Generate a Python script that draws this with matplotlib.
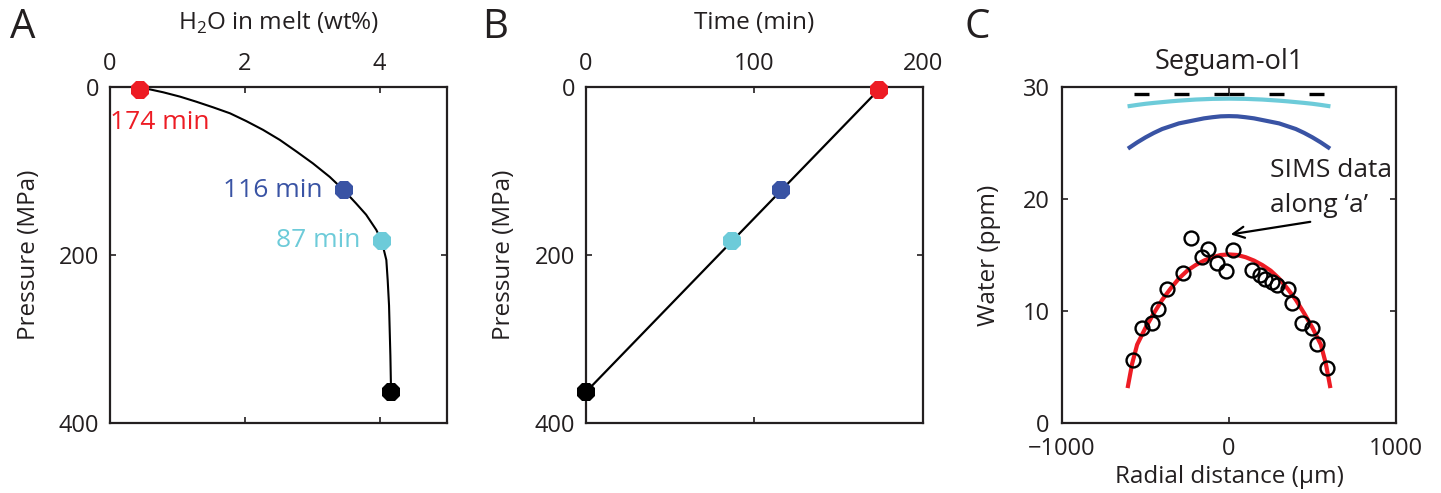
import matplotlib
matplotlib.use("Agg")
import matplotlib.pyplot as plt

plt.rcParams['font.family'] = ['Open Sans', 'DejaVu Sans']
plt.rcParams['mathtext.fontset'] = 'custom'
plt.rcParams['mathtext.rm'] = 'Open Sans'

# ---- data ----
# panel A: H2O in melt vs pressure (degassing path)
h2o_path = [0.44, 0.59, 0.79, 1.04, 1.28, 1.53, 1.78, 2.02, 2.27, 2.52, 2.77, 3.01, 3.26,
            3.47, 3.65, 3.80, 3.95, 4.03, 4.10, 4.12, 4.14, 4.15, 4.16, 4.17]
p_path = [3, 2.8, 6.3, 11.5, 17.5, 24.2, 31.3, 40.5, 51, 63, 77, 90.9, 107,
          123, 138.5, 152, 170, 183, 206, 230, 260, 290, 320, 363]

# marked points (A and B)
pt_time = [174, 116, 87, 0]
pt_press = [3, 123, 183, 363]
pt_h2o = [0.44, 3.47, 4.03, 4.17]
pt_label = ['174 min', '116 min', '87 min', None]

# panel C: Seguam-ol1 profiles
sims_x = [-228, -124, -163, -74, -18, 26, -277, -369, -423, -463, -523, -577,
          136, 186, 216, 256, 286, 355, 375, 435, 495, 525, 589]
sims_w = [16.5, 15.5, 14.85, 14.26, 13.6, 15.45, 13.4, 12.0, 10.15, 8.96, 8.45, 5.6,
          13.66, 13.2, 12.9, 12.6, 12.3, 12.0, 10.7, 8.96, 8.45, 7.05, 4.9]

fit_x = [-605, -580, -550, -500, -450, -400, -350, -300, -250, -200, -150, -100, -50, 0,
         50, 100, 150, 200, 250, 300, 350, 400, 450, 500, 550, 580, 605]
fit_w = [3.3, 5.3, 7.0, 8.5, 9.8, 11.0, 12.0, 12.9, 13.6, 14.1, 14.5, 14.8, 15.0, 15.05,
         15.0, 14.8, 14.5, 14.1, 13.6, 12.9, 12.0, 11.0, 9.8, 8.5, 7.0, 5.3, 3.3]

prof_x = [-595, -550, -500, -450, -400, -350, -300, -250, -200, -150, -100, -50, 0,
          50, 100, 150, 200, 250, 300, 350, 400, 450, 500, 550, 595]
cyan_w = [28.3, 28.4, 28.5, 28.58, 28.65, 28.72, 28.78, 28.83, 28.88, 28.91, 28.94, 28.95, 28.96,
          28.95, 28.94, 28.91, 28.88, 28.83, 28.78, 28.72, 28.65, 28.58, 28.5, 28.4, 28.3]
blue_w = [24.6, 25.05, 25.5, 25.9, 26.25, 26.5, 26.75, 26.9, 27.05, 27.2, 27.3, 27.38, 27.4,
          27.38, 27.3, 27.2, 27.05, 26.9, 26.75, 26.5, 26.25, 25.9, 25.5, 25.05, 24.6]
# initial water content (dashed), drawn outward from the centre
init_x = [-590, 0, 590]
init_w = [29.4, 29.4, 29.4]

dark = '#231f20'
red = '#ed1c24'
blue = '#3953a4'
cyan = '#6dcbd9'
pt_color = [red, blue, cyan, 'black']

W, H = 1441, 493
fig = plt.figure(figsize=(W / 100, H / 100), dpi=100)


def make_axes(left, right, top=87, bottom=423):
    ax = fig.add_axes([left / W, (H - bottom) / H, (right - left) / W, (bottom - top) / H])
    for s in ax.spines.values():
        s.set_linewidth(1.6)
        s.set_color(dark)
    ax.tick_params(direction='in', length=4, width=1.2, colors=dark,
                   labelsize=17, top=True, bottom=True, left=True, right=True)
    return ax


lab_fs = 17.5
ann_fs = 19

# ---- panel A ----
axA = make_axes(110, 447)
axA.plot(h2o_path, p_path, color='black', lw=1.5, zorder=2)
for x, p, c in zip(pt_h2o, pt_press, pt_color):
    axA.plot(x, p, marker='8', ms=14.5, color=c, mew=0, zorder=3, clip_on=False)
axA.set_xlim(0, 5)
axA.set_ylim(400, 0)
axA.set_xticks([0, 2, 4])
axA.set_yticks([0, 200, 400])
axA.tick_params(axis='x', labeltop=True, labelbottom=False, pad=8)
axA.tick_params(axis='y', labelleft=True, labelright=False, pad=8)
axA.text(0.0, 42, pt_label[0], color=red, fontsize=ann_fs, ha='left', va='center')
axA.text(3.15, 123, pt_label[1], color=blue, fontsize=ann_fs, ha='right', va='center')
axA.text(3.71, 183, pt_label[2], color=cyan, fontsize=ann_fs, ha='right', va='center')
axA.text(0.5, 1.19, r'H$_\mathregular{2}$O in melt (wt%)', transform=axA.transAxes,
         fontsize=lab_fs, color=dark, ha='center', va='center')
axA.text(-0.24, 0.5, 'Pressure (MPa)', transform=axA.transAxes, rotation=90,
         fontsize=lab_fs, color=dark, ha='center', va='center')
fig.text(23 / W, 1 - 28 / H, 'A', fontsize=29, color=dark, ha='center', va='center')

# ---- panel B ----
axB = make_axes(586, 922.7)
axB.plot(pt_time, pt_press, color='black', lw=1.6, zorder=2)
for t, p, c in zip(pt_time, pt_press, pt_color):
    axB.plot(t, p, marker='8', ms=14.5, color=c, mew=0, zorder=3, clip_on=False)
axB.set_xlim(0, 200)
axB.set_ylim(400, 0)
axB.set_xticks([0, 100, 200])
axB.set_yticks([0, 200, 400])
axB.tick_params(axis='x', labeltop=True, labelbottom=False, pad=8)
axB.tick_params(axis='y', labelleft=True, labelright=False, pad=8)
axB.text(0.5, 1.19, 'Time (min)', transform=axB.transAxes,
         fontsize=lab_fs, color=dark, ha='center', va='center')
axB.text(-0.2435, 0.5, 'Pressure (MPa)', transform=axB.transAxes, rotation=90,
         fontsize=lab_fs, color=dark, ha='center', va='center')
fig.text(495 / W, 1 - 28 / H, 'B', fontsize=29, color=dark, ha='center', va='center')

# ---- panel C ----
axC = make_axes(1062, 1396)
axC.plot(init_x[1::-1], init_w[1::-1], color='black', lw=2.4, dashes=(4.5, 7.5), zorder=2)
axC.plot(init_x[1:], init_w[1:], color='black', lw=2.4, dashes=(4.5, 7.5), zorder=2)
axC.plot(prof_x, cyan_w, color=cyan, lw=3, zorder=2)
axC.plot(prof_x, blue_w, color=blue, lw=3, zorder=2)
axC.plot(fit_x, fit_w, color=red, lw=3, zorder=2)
axC.plot(sims_x, sims_w, ls='none', marker='o', ms=10, mfc='none', mec='black',
         mew=1.7, zorder=3)
axC.set_xlim(-1000, 1000)
axC.set_ylim(0, 30)
axC.set_xticks([-1000, 0, 1000])
axC.set_yticks([0, 10, 20, 30])
axC.tick_params(axis='x', labeltop=False, labelbottom=True, pad=10)
axC.tick_params(axis='y', labelleft=True, labelright=False, pad=9)
axC.annotate('', xy=(-6, 16.8), xytext=(503, 18.0),
             arrowprops=dict(arrowstyle='->', color='black', lw=1.6,
                             mutation_scale=20))
axC.text(245, 21.0, 'SIMS data\nalong \u2018a\u2019', fontsize=ann_fs, color=dark,
         ha='left', va='center', linespacing=1.5)
axC.text(0.5, 1.074, 'Seguam-ol1', transform=axC.transAxes,
         fontsize=19.5, color=dark, ha='center', va='center')
axC.text(0.5, -0.16, 'Radial distance (\u00b5m)', transform=axC.transAxes,
         fontsize=lab_fs, color=dark, ha='center', va='center')
axC.text(-0.219, 0.5, 'Water (ppm)', transform=axC.transAxes, rotation=90,
         fontsize=lab_fs, color=dark, ha='center', va='center')
fig.text(977 / W, 1 - 28 / H, 'C', fontsize=29, color=dark, ha='center', va='center')

fig.savefig('out.png', dpi=100)
